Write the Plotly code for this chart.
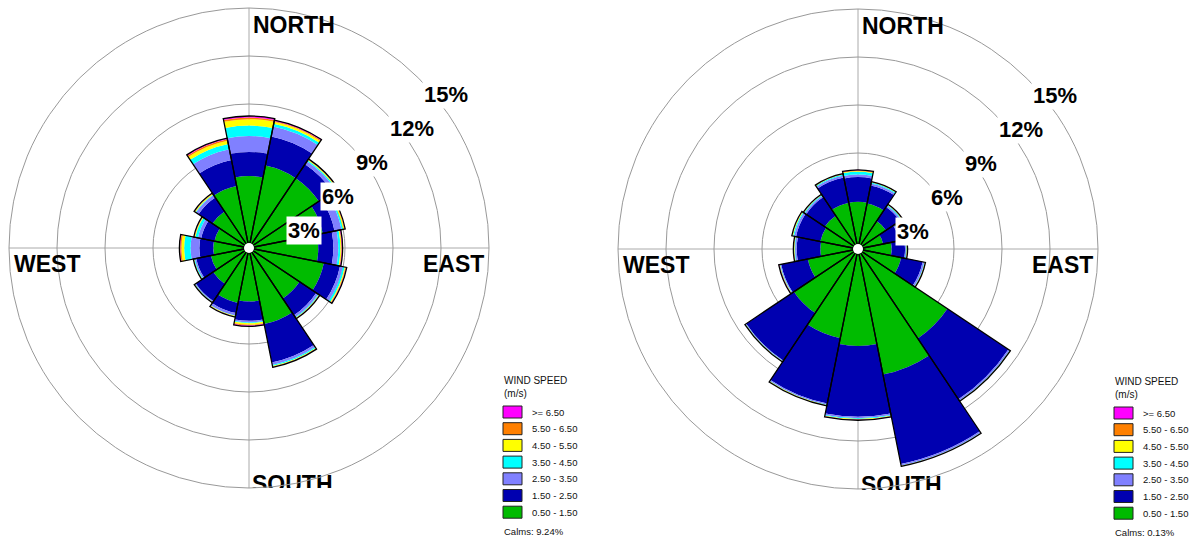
import numpy as np
import plotly.graph_objects as go

W, H = 1195, 538

# ---------------- data ----------------
directions = ["N", "NNE", "NE", "ENE", "E", "ESE", "SE", "SSE",
              "S", "SSW", "SW", "WSW", "W", "WNW", "NW", "NNW"]
direction_deg = [0, 22.5, 45, 67.5, 90, 112.5, 135, 157.5,
                 180, 202.5, 225, 247.5, 270, 292.5, 315, 337.5]

speed_bins = ["0.50 - 1.50", "1.50 - 2.50", "2.50 - 3.50", "3.50 - 4.50",
              "4.50 - 5.50", "5.50 - 6.50", ">= 6.50"]
bin_colors = ["#00BB00", "#0000B0", "#8080FF", "#00FFFF",
              "#FFFF00", "#FF8000", "#FF00FF"]

ring_values = [3, 6, 9, 12, 15]

# left rose: frequency (%) per direction for each speed bin
left_050_150 = [4.5, 5.25, 5.25, 4.7, 4.33, 4.77, 3.8, 4.85, 3.35, 3.5, 2.7, 2.43, 2.23, 2.2, 2.75, 3.95]
left_150_250 = [1.5, 1.85, 1.05, 0.75, 0.94, 1.03, 1.25, 2.45, 1.2, 0.65, 1.3, 0.93, 0.87, 0.85, 1.05, 1.65]
left_250_350 = [1.0, 0.65, 0.22, 0.45, 0.31, 0.18, 0.15, 0.15, 0.1, 0.15, 0.05, 0.09, 0.55, 0.2, 0.18, 0.7]
left_350_450 = [0.65, 0.17, 0.08, 0.1, 0.13, 0.12, 0.05, 0.07, 0.05, 0.03, 0.03, 0.05, 0.4, 0.17, 0.05, 0.33]
left_450_550 = [0.4, 0.12, 0.05, 0.07, 0.06, 0.05, 0.03, 0.04, 0.1, 0.03, 0.02, 0.03, 0.17, 0.05, 0.05, 0.21]
left_550_650 = [0.1, 0.06, 0.03, 0.03, 0.03, 0.04, 0.02, 0.02, 0.05, 0.02, 0.01, 0.01, 0.08, 0.03, 0.03, 0.09]
left_ge_650 = [0.1, 0.05, 0.02, 0.03, 0.05, 0.04, 0.02, 0.02, 0.05, 0.02, 0.01, 0.01, 0.05, 0.02, 0.02, 0.07]
left_calms = 9.24

# right rose
right_050_150 = [2.95, 2.9, 2.1, 1.6, 2.1, 2.75, 6.72, 8.0, 6.06, 5.68, 4.82, 3.2, 2.35, 2.4, 2.5, 2.95]
right_150_250 = [1.55, 1.15, 1.05, 1.05, 0.84, 1.37, 4.58, 5.7, 4.42, 4.17, 3.58, 1.7, 1.48, 1.55, 1.4, 1.6]
right_250_350 = [0.15, 0.12, 0.1, 0.07, 0.06, 0.1, 0.1, 0.1, 0.1, 0.07, 0.04, 0.05, 0.1, 0.12, 0.1, 0.13]
right_350_450 = [0.17, 0.07, 0.05, 0.04, 0.04, 0.03, 0.02, 0.02, 0.04, 0.03, 0.02, 0.03, 0.04, 0.07, 0.05, 0.06]
right_450_550 = [0.06, 0.03, 0.03, 0.02, 0.02, 0.02, 0.01, 0.01, 0.03, 0.02, 0.02, 0.02, 0.03, 0.04, 0.03, 0.03]
right_550_650 = [0.04, 0.02, 0.02, 0.01, 0.02, 0.02, 0.01, 0.01, 0.02, 0.02, 0.01, 0.02, 0.02, 0.02, 0.02, 0.02]
right_ge_650 = [0.03, 0.01, 0.02, 0.01, 0.02, 0.01, 0.01, 0.01, 0.03, 0.01, 0.01, 0.03, 0.02, 0.02, 0.02, 0.01]
right_calms = 0.13

left_series = [left_050_150, left_150_250, left_250_350, left_350_450,
               left_450_550, left_550_650, left_ge_650]
right_series = [right_050_150, right_150_250, right_250_350, right_350_450,
                right_450_550, right_550_650, right_ge_650]

# ---------------- layout helpers ----------------
FONT = "Liberation Sans, Arial, sans-serif"


def fx(x):
    return x / W


def fy(y):
    return 1 - y / H


fig = go.Figure()

charts = [
    dict(subplot="polar", series=left_series, calms=left_calms,
         cx=249, cy=248, legx=503, legy=0, xa="x", ya="y"),
    dict(subplot="polar2", series=right_series, calms=right_calms,
         cx=858, cy=249, legx=1114, legy=1, xa="x2", ya="y2"),
]
R = 240

annotations = []
shapes = []
layout_extra = {}

for ci, ch in enumerate(charts):
    sp = ch["subplot"]
    base = np.zeros(len(direction_deg))
    for vals, col, name in zip(ch["series"], bin_colors, speed_bins):
        v = np.array(vals, dtype=float)
        fig.add_trace(go.Barpolar(
            r=v, base=base.copy(), theta=direction_deg, width=22.5,
            marker=dict(color=col, line=dict(width=0)),
            subplot=sp, showlegend=False, hoverinfo="skip", name=name))
        base = base + v
    # outline of each direction
    fig.add_trace(go.Barpolar(
        r=base, theta=direction_deg, width=22.5,
        marker=dict(color="rgba(0,0,0,0)", line=dict(color="black", width=1.3)),
        subplot=sp, showlegend=False, hoverinfo="skip"))
    # white center dot
    fig.add_trace(go.Scatterpolar(
        r=[0], theta=[0], mode="markers",
        marker=dict(color="white", size=10, line=dict(width=0)),
        subplot=sp, showlegend=False, hoverinfo="skip"))

    cx, cy = ch["cx"], ch["cy"]
    layout_extra[sp] = dict(
        domain=dict(x=[fx(cx - R), fx(cx + R)], y=[fy(cy + R), fy(cy - R)]),
        bgcolor="rgba(0,0,0,0)",
        barmode="overlay",
        radialaxis=dict(range=[0, 15], tickvals=ring_values, showticklabels=False,
                        ticks="", showline=False, gridcolor="#999999", gridwidth=1,
                        layer="below traces"),
        angularaxis=dict(rotation=90, direction="clockwise",
                         tickvals=[0, 90, 180, 270], showticklabels=False, ticks="",
                         showline=True, linecolor="#999999", linewidth=1,
                         gridcolor="#aaaaaa", gridwidth=1, layer="below traces"),
    )

    # compass labels
    lab_font = dict(family=FONT, size=23, color="black", weight="bold")
    annotations.append(dict(text="NORTH", x=fx(cx + 2), y=fy(cy - 223), xref="paper", yref="paper",
                            xanchor="left", yanchor="middle", showarrow=False, font=lab_font))
    annotations.append(dict(text="WEST", x=fx(cx - 237), y=fy(cy + 15.5), xref="paper", yref="paper",
                            xanchor="left", yanchor="middle", showarrow=False, font=lab_font))
    annotations.append(dict(text="EAST", x=fx(cx + 237), y=fy(cy + 15.5), xref="paper", yref="paper",
                            xanchor="right", yanchor="middle", showarrow=False, font=lab_font))
    # SOUTH label is clipped by the chart frame -> cartesian text trace
    fig.add_trace(go.Scatter(x=[cx + 3], y=[cy + 238], text=["SOUTH"], mode="text",
                             textposition="middle right", cliponaxis=True,
                             textfont=dict(family=FONT, size=23, color="black", weight="bold"),
                             xaxis=ch["xa"], yaxis=ch["ya"], showlegend=False, hoverinfo="skip"))
    xa_name = "xaxis" if ch["xa"] == "x" else "xaxis2"
    ya_name = "yaxis" if ch["ya"] == "y" else "yaxis2"
    bottom = cy + R + (1 if ci == 1 else 0)
    layout_extra[xa_name] = dict(domain=[fx(cx - R - 5), fx(cx + R)], range=[cx - R - 5, cx + R],
                                 visible=False, fixedrange=True)
    layout_extra[ya_name] = dict(domain=[fy(bottom), fy(cy - R)], range=[bottom, cy - R],
                                 visible=False, fixedrange=True)

    # ring percentage labels
    for k, rv in enumerate(ring_values):
        annotations.append(dict(text=f"{rv}%", x=fx(cx + 37 + 34 * k), y=fy(cy - 17.5 - 34 * k),
                                xref="paper", yref="paper", xanchor="left", yanchor="middle",
                                showarrow=False, bgcolor="white", borderpad=1,
                                font=dict(family=FONT, size=22, color="black", weight="bold")))

    # legend
    lx, dy0 = ch["legx"], ch["legy"]
    annotations.append(dict(text="WIND SPEED", x=fx(lx - 1), y=fy(380 + dy0), xref="paper", yref="paper",
                            xanchor="left", yanchor="middle", showarrow=False,
                            font=dict(family=FONT, size=10, color="#111")))
    annotations.append(dict(text="(m/s)", x=fx(lx - 1), y=fy(393 + dy0), xref="paper", yref="paper",
                            xanchor="left", yanchor="middle", showarrow=False,
                            font=dict(family=FONT, size=10, color="#111")))
    for i, (name, col) in enumerate(zip(speed_bins[::-1], bin_colors[::-1])):
        top = 406 + dy0 + 16.7 * i
        shapes.append(dict(type="rect", xref="paper", yref="paper",
                           x0=fx(lx), x1=fx(lx + 19), y0=fy(top + 12), y1=fy(top),
                           fillcolor=col, line=dict(color="#222", width=1)))
        annotations.append(dict(text=name, x=fx(lx + 27), y=fy(top + 6), xref="paper", yref="paper",
                                xanchor="left", yanchor="middle", showarrow=False,
                                font=dict(family=FONT, size=9.5, color="#111")))
    annotations.append(dict(text=f"Calms: {ch['calms']:.2f}%", x=fx(lx - 1), y=fy(531 + dy0),
                            xref="paper", yref="paper", xanchor="left", yanchor="middle",
                            showarrow=False, font=dict(family=FONT, size=9.5, color="#111")))

fig.update_layout(
    width=W, height=H, margin=dict(l=0, r=0, t=0, b=0),
    paper_bgcolor="white", plot_bgcolor="rgba(0,0,0,0)",
    showlegend=False, annotations=annotations, shapes=shapes,
    **layout_extra,
)

fig.write_html("out.html", config={"displayModeBar": False})
